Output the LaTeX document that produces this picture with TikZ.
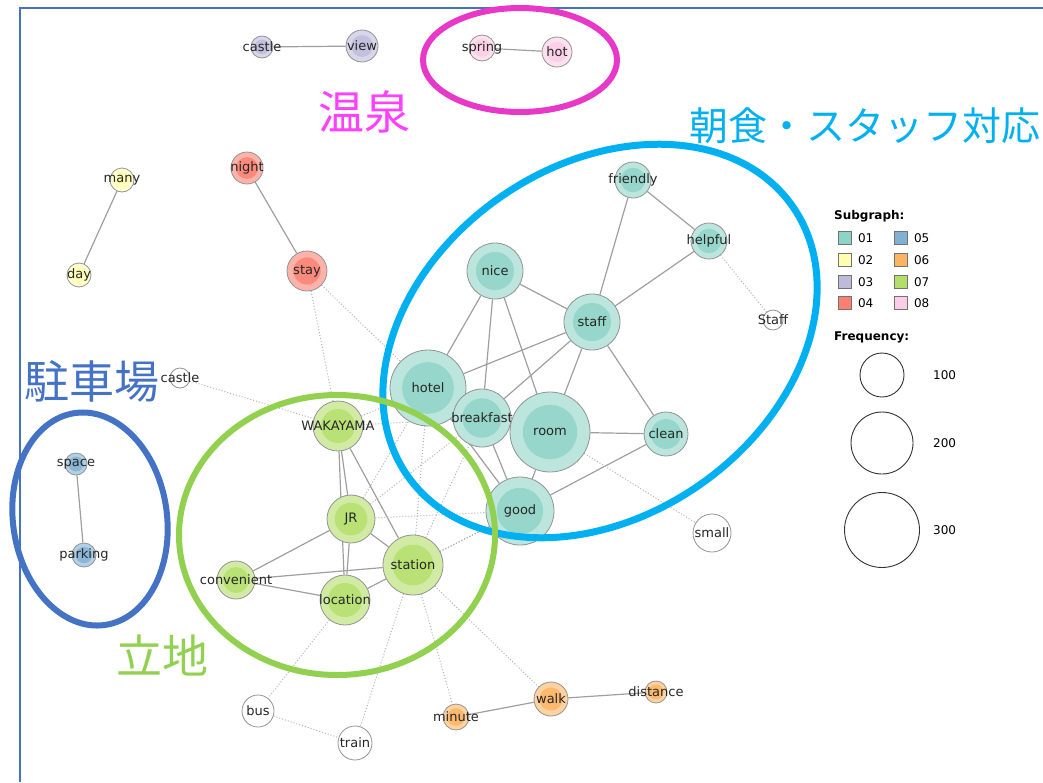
\documentclass[tikz,border=0pt]{standalone}
\usepackage{fontspec}
\setmainfont{DejaVu Sans}
\newfontfamily\jpfont{Noto Sans CJK JP}
\usetikzlibrary{backgrounds,positioning}

\definecolor{sg01}{HTML}{8DD3C7}
\definecolor{sg02}{HTML}{FFFFB3}
\definecolor{sg03}{HTML}{BEBADA}
\definecolor{sg04}{HTML}{FB8072}
\definecolor{sg05}{HTML}{80B1D3}
\definecolor{sg06}{HTML}{FDB462}
\definecolor{sg07}{HTML}{B3DE69}
\definecolor{sg08}{HTML}{FCCDE5}
\definecolor{onsentext}{HTML}{FF40FF}
\definecolor{onsenring}{HTML}{E838C8}
\definecolor{staffring}{HTML}{00B0F0}
\definecolor{parkring}{HTML}{4472C4}
\definecolor{placering}{HTML}{92D050}

% word node: name, x, y, diameter, colour, text
\newcommand{\word}[6]{\node[word, minimum size=#4pt, fill=#5!60!white,
  path picture={\fill[#5!92!white] (path picture bounding box.center) circle (#4*0.34pt);},
  label={[wordtext]center:#6}] (#1) at (#2,#3) {};}
% word node outside every subgraph
\newcommand{\loneword}[5]{\node[word, minimum size=#4pt, fill=white,
  label={[wordtext]center:#5}] (#1) at (#2,#3) {};}

\begin{document}
\begin{tikzpicture}[x=1pt,y=-1pt,
  word/.style={circle, draw=gray!85, line width=0.8pt, inner sep=0pt},
  wordtext/.style={font=\fontsize{13}{13}\selectfont, text=black!85, inner sep=0pt},
  link/.style={draw=gray!75, line width=1.2pt},
  weak/.style={draw=gray!60, line width=1pt, dotted},
  ring/.style={line width=6pt},
  jptext/.style={font=\jpfont\fontsize{#1}{#1}\selectfont, inner sep=0pt},
  keybox/.style={draw=gray!90!black, line width=0.8pt, minimum size=13pt, inner sep=0pt},
  keytext/.style={font=\fontsize{12}{12}\selectfont, inner sep=0pt, anchor=west}]
\useasboundingbox (0,0) rectangle (1043,782);
\draw[parkring, line width=1.5pt] (1043,8) -- (20,8) -- (20,782);

% subgraphs 02, 03, 04, 05, 06, 08
\word{castle}{262}{47}{22}{sg03}{castle}
\word{view}{362}{46}{32}{sg03}{view}
\word{spring}{482}{48}{26}{sg08}{spring}
\word{hot}{557}{52}{30}{sg08}{hot}
\word{many}{122}{180}{24}{sg02}{many}
\word{day}{79}{275}{24}{sg02}{day}
\word{night}{247}{168}{32}{sg04}{night}
\word{stay}{307}{271}{40}{sg04}{stay}
\word{space}{76}{464}{22}{sg05}{space}
\word{parking}{84}{555}{24}{sg05}{parking}
\word{minute}{456}{717}{26}{sg06}{minute}
\word{walk}{551}{699}{34}{sg06}{walk}
\word{distance}{656}{692}{22}{sg06}{distance}

% subgraph 01
\word{friendly}{633}{180}{36}{sg01}{friendly}
\word{helpful}{709}{241}{36}{sg01}{helpful}
\word{nice}{495}{271}{56}{sg01}{nice}
\word{staff}{592}{322}{56}{sg01}{staff}
\word{hotel}{428}{388}{76}{sg01}{hotel}
\word{breakfast}{482}{418}{58}{sg01}{breakfast}
\word{room}{550}{432}{80}{sg01}{room}
\word{clean}{666}{434}{44}{sg01}{clean}
\word{good}{520}{511}{68}{sg01}{good}

% subgraph 07
\word{wakayama}{338}{426}{50}{sg07}{WAKAYAMA}
\word{jr}{351}{519}{48}{sg07}{JR}
\word{station}{413}{565}{60}{sg07}{station}
\word{convenient}{236}{580}{38}{sg07}{convenient}
\word{location}{345}{600}{50}{sg07}{location}

% no subgraph
\loneword{castleb}{180}{378}{20}{castle}
\loneword{staffb}{773}{320}{20}{Staff}
\loneword{small}{712}{533}{38}{small}
\loneword{bus}{258}{711}{32}{bus}
\loneword{train}{355}{743}{34}{train}

\begin{scope}[on background layer]
\draw[link] (castle) -- (view);
\draw[link] (spring) -- (hot);
\draw[link] (many) -- (day);
\draw[link] (night) -- (stay);
\draw[link] (space) -- (parking);
\draw[link] (minute) -- (walk);
\draw[link] (walk) -- (distance);
\draw[link] (friendly) -- (staff);
\draw[link] (friendly) -- (helpful);
\draw[link] (helpful) -- (staff);
\draw[link] (nice) -- (staff);
\draw[link] (nice) -- (hotel);
\draw[link] (nice) -- (breakfast);
\draw[link] (nice) -- (room);
\draw[link] (staff) -- (hotel);
\draw[link] (staff) -- (breakfast);
\draw[link] (staff) -- (room);
\draw[link] (staff) -- (clean);
\draw[link] (hotel) -- (breakfast);
\draw[link] (hotel) -- (room);
\draw[link] (hotel) -- (good);
\draw[link] (breakfast) -- (room);
\draw[link] (breakfast) -- (good);
\draw[link] (room) -- (clean);
\draw[link] (room) -- (good);
\draw[link] (good) -- (clean);
\draw[link] (wakayama) -- (jr);
\draw[link] (wakayama) -- (location);
\draw[link] (wakayama) -- (station);
\draw[link] (jr) -- (location);
\draw[link] (jr) -- (station);
\draw[link] (jr) -- (convenient);
\draw[link] (convenient) -- (station);
\draw[link] (convenient) -- (location);
\draw[link] (location) -- (station);
% weak links
\draw[weak] (stay) -- (wakayama);
\draw[weak] (stay) -- (hotel);
\draw[weak] (castleb) -- (wakayama);
\draw[weak] (wakayama) -- (hotel);
\draw[weak] (wakayama) -- (breakfast);
\draw[weak] (jr) -- (hotel);
\draw[weak] (jr) -- (breakfast);
\draw[weak] (jr) -- (good);
\draw[weak] (station) -- (hotel);
\draw[weak] (station) -- (breakfast);
\draw[weak] (station) -- (good);
\draw[weak] (location) -- (good);
\draw[weak] (helpful) -- (staffb);
\draw[weak] (room) -- (small);
\draw[weak] (station) -- (walk);
\draw[weak] (station) -- (minute);
\draw[weak] (station) -- (train);
\draw[weak] (location) -- (bus);
\draw[weak] (bus) -- (train);
\end{scope}

% rings round the groups
\draw[ring, onsenring] (520,60) ellipse [x radius=97, y radius=52];
\draw[ring, staffring, line width=7pt] (600,341) ellipse [x radius=235, y radius=175, rotate=35];
\draw[ring, placering] (337,535) ellipse [x radius=158, y radius=140];
\draw[ring, parkring] (90,519) ellipse [x radius=77, y radius=107, rotate=8];

\node[jptext=46, text=onsentext] (onsen) at (364,112) {温泉};
\node[jptext=39, text=staffring] (service) at (865,126) {朝食・スタッフ対応};
\node[jptext=45, text=parkring] (parking lot) at (92,381) {駐車場};
\node[jptext=46, text=placering] (place) at (162,655) {立地};

% legend
\node[keytext, font=\bfseries\fontsize{12}{12}\selectfont] (subgraph) at (834,216) {Subgraph:};
\foreach \n/\y in {01/238,02/260,03/282,04/303}
  \node[keybox, fill=sg\n, label={[keytext, label distance=6pt]right:\n}] (k\n) at (845,\y) {};
\foreach \n/\y in {05/238,06/260,07/282,08/303}
  \node[keybox, fill=sg\n, label={[keytext, label distance=6pt]right:\n}] (k\n) at (901,\y) {};
\node[keytext, font=\bfseries\fontsize{12}{12}\selectfont] (frequency) at (834,337) {Frequency:};
\foreach \f/\y/\d in {100/375/44,200/443/62,300/530/75}
  \node[circle, draw=black!80, line width=0.9pt, minimum size=\d pt, inner sep=0pt] (f\f) at (882,\y) {};
\foreach \f/\y in {100/375,200/443,300/530}
  \node[keytext] at (933,\y) {\f};
\end{tikzpicture}
\end{document}
